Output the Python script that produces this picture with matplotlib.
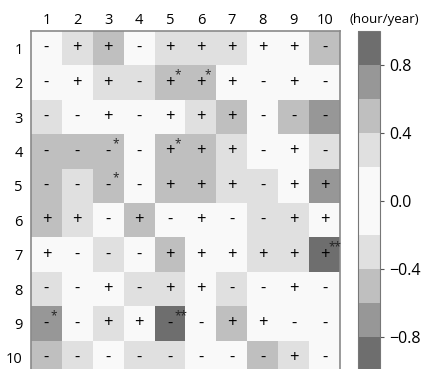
import numpy as np
import matplotlib
matplotlib.use('Agg')
import matplotlib.pyplot as plt
from matplotlib.colors import ListedColormap, BoundaryNorm

plt.rcParams['font.family'] = ['Open Sans', 'DejaVu Sans']

# trend values per cell (hour/year), rows 1-10 x cols 1-10
rows = list(range(1, 11))
cols = list(range(1, 11))
values = np.array([
    [-0.1,  0.3,  0.5, -0.1,  0.3,  0.3,  0.3,  0.1,  0.1, -0.5],
    [-0.1,  0.1,  0.3, -0.3,  0.5,  0.5,  0.1, -0.1,  0.1, -0.1],
    [-0.3, -0.1,  0.1, -0.1,  0.1,  0.3,  0.5, -0.1, -0.5, -0.7],
    [-0.5, -0.5, -0.5, -0.1,  0.5,  0.5,  0.3, -0.1,  0.1, -0.3],
    [-0.5, -0.3, -0.5, -0.1,  0.5,  0.5,  0.3, -0.3,  0.1,  0.7],
    [ 0.5,  0.3, -0.1,  0.5, -0.1,  0.1, -0.1, -0.3,  0.3,  0.1],
    [ 0.1, -0.1, -0.3, -0.1,  0.5,  0.1,  0.1,  0.3,  0.3,  0.9],
    [-0.3, -0.1,  0.1, -0.3,  0.3,  0.1, -0.3, -0.1,  0.1, -0.1],
    [-0.7, -0.1,  0.3,  0.1, -0.9, -0.1,  0.5,  0.1, -0.1, -0.1],
    [-0.5, -0.3, -0.1, -0.3, -0.3, -0.1, -0.1, -0.5,  0.3, -0.1],
])
# significance stars
stars = [
    ['', '', '', '', '', '', '', '', '', ''],
    ['', '', '', '', '*', '*', '', '', '', ''],
    ['', '', '', '', '', '', '', '', '', ''],
    ['', '', '*', '', '*', '', '', '', '', ''],
    ['', '', '*', '', '', '', '', '', '', ''],
    ['', '', '', '', '', '', '', '', '', ''],
    ['', '', '', '', '', '', '', '', '', '**'],
    ['', '', '', '', '', '', '', '', '', ''],
    ['*', '', '', '', '**', '', '', '', '', ''],
    ['', '', '', '', '', '', '', '', '', ''],
]
levels = [-1.0, -0.8, -0.6, -0.4, -0.2, 0.2, 0.4, 0.6, 0.8, 1.0]
cbar_ticks = [-0.8, -0.4, 0.0, 0.4, 0.8]

greys = ['#6e6e6e', '#979797', '#bfbfbf', '#e0e0e0', '#f9f9f9',
         '#e0e0e0', '#bfbfbf', '#979797', '#6e6e6e']
cmap = ListedColormap(greys)
norm = BoundaryNorm(levels, cmap.N)

W, H = 425, 369
fig = plt.figure(figsize=(W / 100, H / 100), dpi=100)
ax = fig.add_axes([31 / W, 1 - 375 / H, 309 / W, 344 / H])
cax = fig.add_axes([358 / W, 1 - 371 / H, 22 / W, 340 / H])

im = ax.imshow(values, cmap=cmap, norm=norm, aspect='auto',
               extent=[0.5, 10.5, 10.5, 0.5])

for i, r in enumerate(rows):
    for j, c in enumerate(cols):
        v = values[i, j]
        sign = '+' if v > 0 else '-'
        ax.text(c, r, sign, ha='center', va='center', fontsize=12, color='black')
        if stars[i][j]:
            ax.text(c + 0.13, r - 0.23, stars[i][j], ha='left', va='center',
                    fontsize=8.5, color='#222222')

ax.set_xlim(0.5, 10.5)
ax.set_ylim(10.5, 0.5)
ax.set_xticks(cols)
ax.set_yticks(rows)
ax.xaxis.tick_top()
ax.tick_params(axis='both', length=0, labelsize=10.5)
ax.tick_params(axis='x', pad=2)
ax.tick_params(axis='y', pad=6)
for s in ax.spines.values():
    s.set_color('#8a8a8a')
    s.set_linewidth(1.2)

cb = fig.colorbar(im, cax=cax, ticks=cbar_ticks, spacing='proportional')
cb.ax.minorticks_off()
cb.ax.tick_params(labelsize=11.5, length=3, width=0.8, color='#555555')
cb.outline.set_edgecolor('#777777')
cb.outline.set_linewidth(0.8)
fig.text(384 / W, 1 - 20 / H, '(hour/year)', ha='center', va='center', fontsize=9.5)

fig.savefig('out.png', dpi=100)
